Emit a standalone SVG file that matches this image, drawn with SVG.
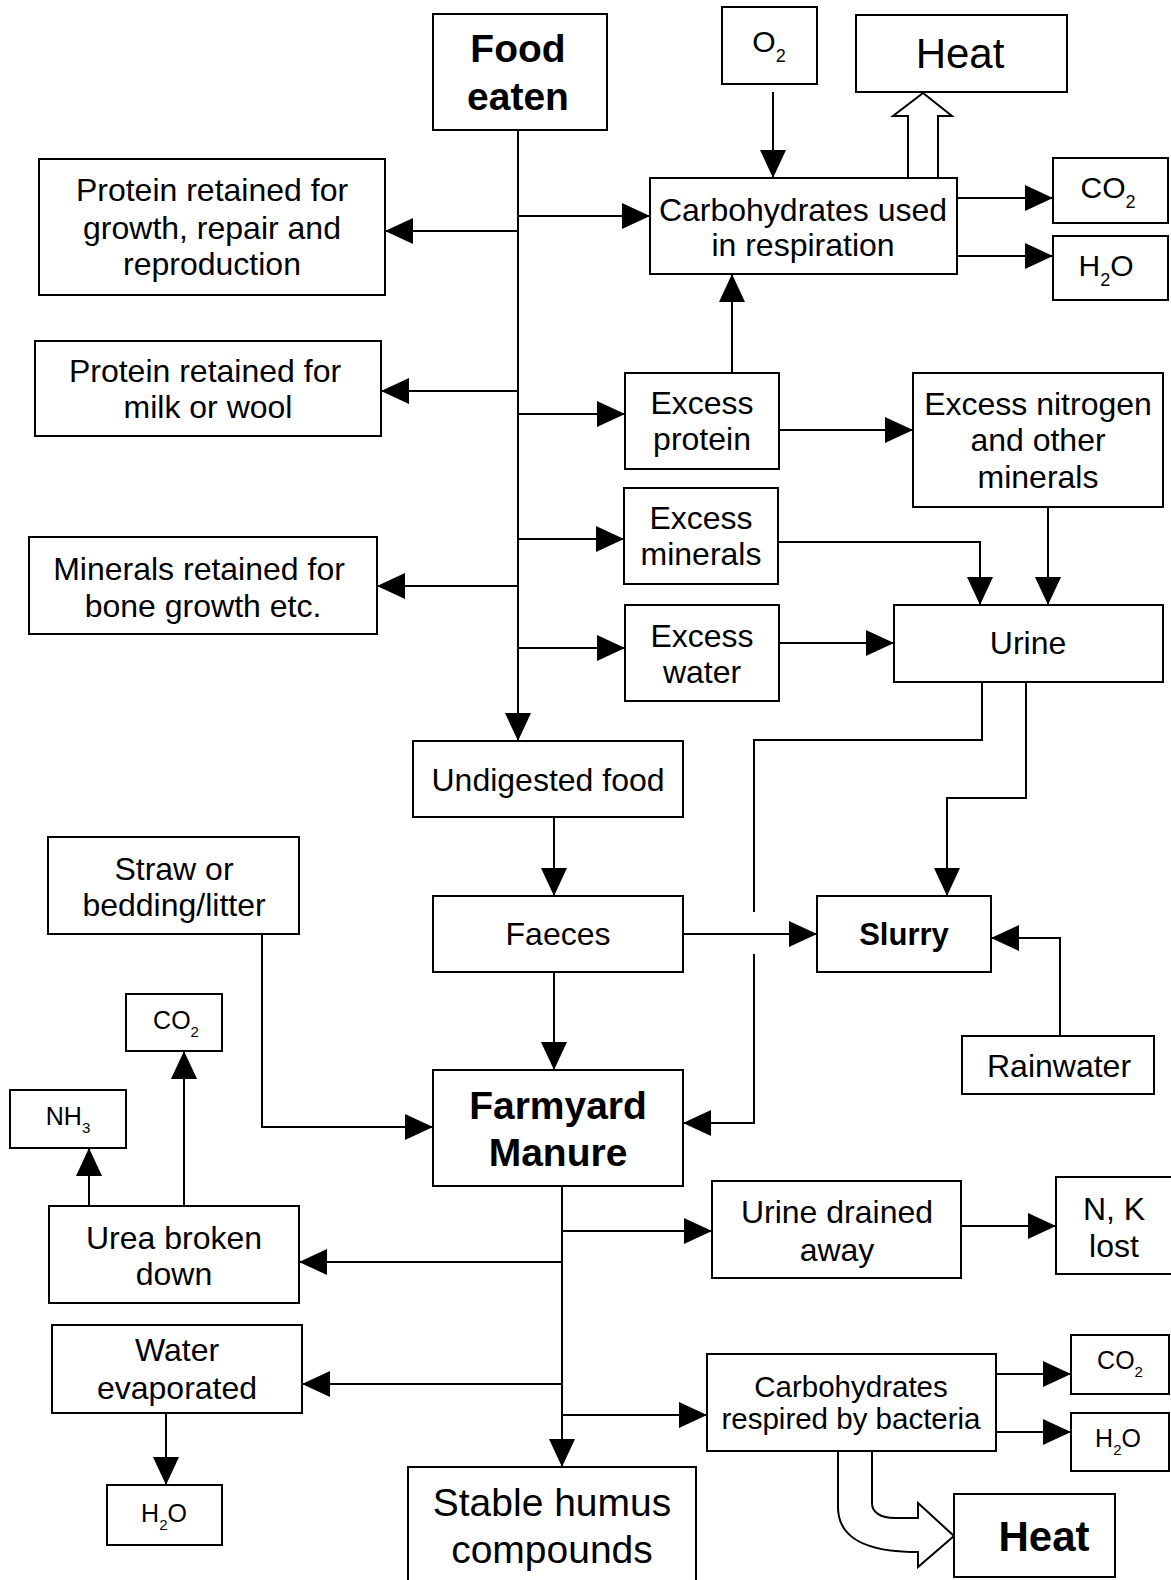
<svg xmlns="http://www.w3.org/2000/svg" width="1171" height="1580" viewBox="0 0 1171 1580">
<style>
rect{fill:#fff;stroke:#000;stroke-width:2}
text{font-family:"Liberation Sans",Arial,sans-serif;font-size:32px;fill:#000;text-anchor:middle}
.b{font-weight:bold}
.big{font-size:39px}
.h{font-size:42px}
.s{font-size:25px}
.m{font-size:29.5px}
.c{font-size:30px}
.sl{font-size:31px}
#connectors path{fill:none;stroke:#000;stroke-width:2}
#connectors path.hollow{fill:#fff}
</style>
<defs>
<marker id="a" markerUnits="userSpaceOnUse" markerWidth="28" markerHeight="26" refX="28" refY="13" orient="auto">
<path d="M0,0 L28,13 L0,26 Z" fill="#000"/>
</marker>
</defs>
<rect width="1171" height="1580" style="fill:#fff;stroke:none"/>
<g id="connectors">
<path d="M518,130 V741" marker-end="url(#a)"/>
<path d="M518,216 H650" marker-end="url(#a)"/>
<path d="M518,231 H385" marker-end="url(#a)"/>
<path d="M518,391 H381" marker-end="url(#a)"/>
<path d="M518,414 H625" marker-end="url(#a)"/>
<path d="M518,539 H624" marker-end="url(#a)"/>
<path d="M518,586 H377" marker-end="url(#a)"/>
<path d="M518,648 H625" marker-end="url(#a)"/>
<path d="M773,92 V178" marker-end="url(#a)"/>
<path class="hollow" d="M908,178 V116 H893 L923,93 L952,116 H938 V178"/>
<path d="M957,198 H1053" marker-end="url(#a)"/>
<path d="M957,256 H1053" marker-end="url(#a)"/>
<path d="M732,373 V274" marker-end="url(#a)"/>
<path d="M779,430 H913" marker-end="url(#a)"/>
<path d="M778,542 H980 V605" marker-end="url(#a)"/>
<path d="M1048,507 V605" marker-end="url(#a)"/>
<path d="M779,643 H894" marker-end="url(#a)"/>
<path d="M1026,682 V798 H947 V896" marker-end="url(#a)"/>
<path d="M982,682 V740 H754 V912"/>
<path d="M754,954 V1123 H683" marker-end="url(#a)"/>
<path d="M683,934 H817" marker-end="url(#a)"/>
<path d="M1060,1036 V938 H991" marker-end="url(#a)"/>
<path d="M554,817 V896" marker-end="url(#a)"/>
<path d="M554,972 V1070" marker-end="url(#a)"/>
<path d="M262,934 V1127 H433" marker-end="url(#a)"/>
<path d="M562,1186 V1467" marker-end="url(#a)"/>
<path d="M562,1231 H712" marker-end="url(#a)"/>
<path d="M562,1262 H299" marker-end="url(#a)"/>
<path d="M562,1384 H302" marker-end="url(#a)"/>
<path d="M562,1415 H707" marker-end="url(#a)"/>
<path d="M961,1226 H1056" marker-end="url(#a)"/>
<path d="M89,1206 V1148" marker-end="url(#a)"/>
<path d="M184,1206 V1051" marker-end="url(#a)"/>
<path d="M166,1413 V1485" marker-end="url(#a)"/>
<path d="M996,1374 H1071" marker-end="url(#a)"/>
<path d="M996,1432 H1071" marker-end="url(#a)"/>
<path class="hollow" d="M838,1452 V1507 C838,1535 860,1552 918,1552 V1567 L954,1536 L918,1503 V1518 H895 C880,1518 872,1512 872,1503 V1452"/>
</g>
<g id="food"><rect x="433" y="14" width="174" height="116"/><text class="b big" x="518" y="62">Food</text><text class="b big" x="518" y="110">eaten</text></g>
<g id="o2"><rect x="722" y="7" width="95" height="77"/><text class="c" x="769" y="52">O<tspan style="font-size:18px" dy="10">2</tspan></text></g>
<g id="heat1"><rect x="856" y="15" width="211" height="77"/><text class="h" x="960" y="68">Heat</text></g>
<g id="carbs"><rect x="650" y="178" width="307" height="96"/><text x="803" y="221">Carbohydrates used</text><text x="803" y="256">in respiration</text></g>
<g id="co2a"><rect x="1053" y="158" width="115" height="65"/><text class="c" x="1108" y="198">CO<tspan style="font-size:18px" dy="10">2</tspan></text></g>
<g id="h2oa"><rect x="1053" y="236" width="115" height="64"/><text class="c" x="1106" y="276">H<tspan style="font-size:18px" dy="10">2</tspan><tspan dy="-10">O</tspan></text></g>
<g id="protG"><rect x="39" y="159" width="346" height="136"/><text x="212" y="201">Protein retained for</text><text x="212" y="239">growth, repair and</text><text x="212" y="275">reproduction</text></g>
<g id="protM"><rect x="35" y="341" width="346" height="95"/><text x="205" y="382">Protein retained for</text><text x="208" y="418">milk or wool</text></g>
<g id="exProt"><rect x="625" y="373" width="154" height="96"/><text x="702" y="414">Excess</text><text x="702" y="450">protein</text></g>
<g id="exN"><rect x="913" y="373" width="250" height="134"/><text x="1038" y="415">Excess nitrogen</text><text x="1038" y="451">and other</text><text x="1038" y="488">minerals</text></g>
<g id="exMin"><rect x="624" y="488" width="154" height="96"/><text x="701" y="529">Excess</text><text x="701" y="565">minerals</text></g>
<g id="minB"><rect x="29" y="537" width="348" height="97"/><text x="199" y="580">Minerals retained for</text><text x="203" y="617">bone growth etc.</text></g>
<g id="exW"><rect x="625" y="605" width="154" height="96"/><text x="702" y="647">Excess</text><text x="702" y="683">water</text></g>
<g id="urine"><rect x="894" y="605" width="269" height="77"/><text x="1028" y="654">Urine</text></g>
<g id="undig"><rect x="413" y="741" width="270" height="76"/><text x="548" y="791">Undigested food</text></g>
<g id="straw"><rect x="48" y="837" width="251" height="97"/><text x="174" y="880">Straw or</text><text x="174" y="916">bedding/litter</text></g>
<g id="faeces"><rect x="433" y="896" width="250" height="76"/><text x="558" y="945">Faeces</text></g>
<g id="slurry"><rect x="817" y="896" width="174" height="76"/><text class="b sl" x="904" y="945">Slurry</text></g>
<g id="rain"><rect x="962" y="1036" width="192" height="58"/><text x="1059" y="1077">Rainwater</text></g>
<g id="co2b"><rect x="126" y="994" width="96" height="57"/><text class="s" x="176" y="1029">CO<tspan style="font-size:15px" dy="8">2</tspan></text></g>
<g id="nh3"><rect x="10" y="1090" width="116" height="58"/><text class="s" x="68" y="1125">NH<tspan style="font-size:15px" dy="8">3</tspan></text></g>
<g id="fym"><rect x="433" y="1070" width="250" height="116"/><text class="b big" x="558" y="1119">Farmyard</text><text class="b big" x="558" y="1166">Manure</text></g>
<g id="urea"><rect x="49" y="1206" width="250" height="97"/><text x="174" y="1249">Urea broken</text><text x="174" y="1285">down</text></g>
<g id="drained"><rect x="712" y="1181" width="249" height="97"/><text x="837" y="1223">Urine drained</text><text x="837" y="1261">away</text></g>
<g id="nk"><rect x="1056" y="1177" width="120" height="97"/><text x="1114" y="1220">N, K</text><text x="1114" y="1257">lost</text></g>
<g id="water"><rect x="52" y="1325" width="250" height="88"/><text x="177" y="1361">Water</text><text x="177" y="1399">evaporated</text></g>
<g id="h2ob"><rect x="107" y="1485" width="115" height="60"/><text class="s" x="164" y="1522">H<tspan style="font-size:15px" dy="8">2</tspan><tspan dy="-8">O</tspan></text></g>
<g id="humus"><rect x="408" y="1467" width="288" height="130"/><text class="big" x="552" y="1516">Stable humus</text><text class="big" x="552" y="1563">compounds</text></g>
<g id="bact"><rect x="707" y="1354" width="289" height="97"/><text class="m" x="851" y="1397">Carbohydrates</text><text class="m" x="851" y="1429">respired by bacteria</text></g>
<g id="co2c"><rect x="1071" y="1335" width="98" height="59"/><text class="s" x="1120" y="1369">CO<tspan style="font-size:15px" dy="8">2</tspan></text></g>
<g id="h2oc"><rect x="1071" y="1413" width="98" height="58"/><text class="s" x="1118" y="1447">H<tspan style="font-size:15px" dy="8">2</tspan><tspan dy="-8">O</tspan></text></g>
<g id="heat2"><rect x="954" y="1494" width="161" height="83"/><text class="b h" x="1044" y="1551">Heat</text></g>
</svg>
